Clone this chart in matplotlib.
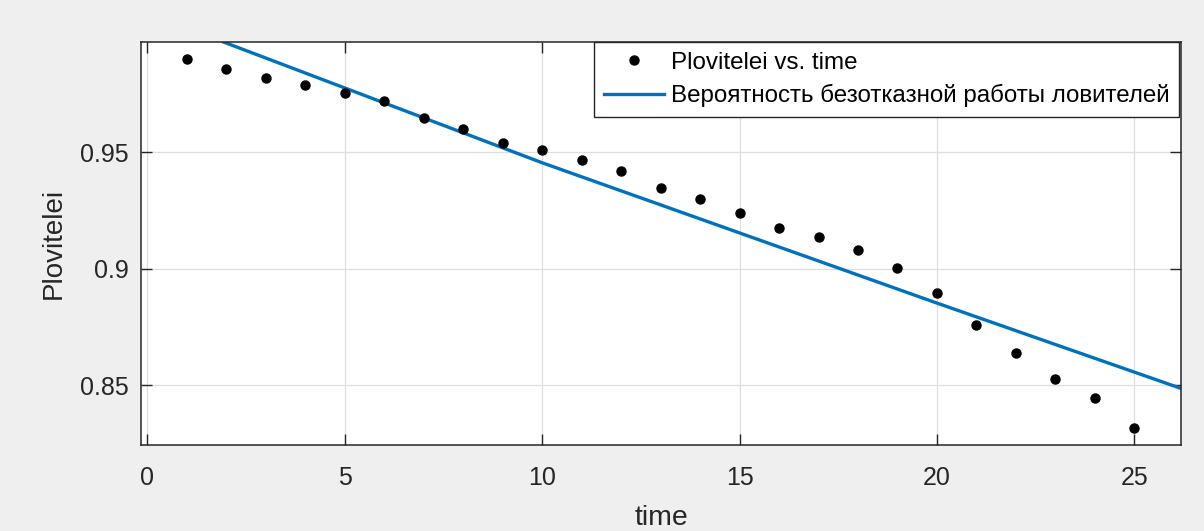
import numpy as np
import matplotlib
matplotlib.use("Agg")
import matplotlib.pyplot as plt

time = [1, 2, 3, 4, 5, 6, 7, 8, 9, 10, 11, 12, 13, 14, 15, 16, 17, 18, 19, 20,
        21, 22, 23, 24, 25]
plovitelei = [0.9899, 0.9859, 0.9819, 0.9788, 0.9756, 0.9721, 0.9647, 0.9600,
              0.9539, 0.9509, 0.9467, 0.9420, 0.9348, 0.9298, 0.9238, 0.9176,
              0.9138, 0.9081, 0.9002, 0.8898, 0.8758, 0.8638, 0.8528, 0.8445,
              0.8317]

# fitted curve, read at a few places along it
fit_time = [1.93, 10, 20, 26.18]
fit_p = [0.9973, 0.9455, 0.8853, 0.8487]

xticks = [0, 5, 10, 15, 20, 25]
yticks = [0.85, 0.9, 0.95]
ytick_labels = ["0.85", "0.9", "0.95"]

plt.rcParams['font.family'] = ['Liberation Sans', 'DejaVu Sans']

dark = '#262626'
fig = plt.figure(figsize=(12.04, 5.31), dpi=100, facecolor='#f0eff0')
ax = fig.add_axes([0.1174, 0.1614, 0.9809 - 0.1174, 0.9209 - 0.1614])
ax.set_facecolor('white')

ax.plot(time, plovitelei, 'o', color='black', ms=6.5, mec='black',
        label='Plovitelei vs. time', zorder=3)
ax.plot(fit_time, fit_p, '-', color='#0072bd', lw=2.4,
        label='Вероятность безотказной работы ловителей', zorder=2)

ax.set_xlim(-0.15, 26.18)
ax.set_ylim(0.8243, 0.9973)
ax.set_xticks(xticks)
ax.set_yticks(yticks)
ax.set_yticklabels(ytick_labels)

ax.grid(True, color='#dedede', lw=0.9)
ax.set_axisbelow(True)
for s in ax.spines.values():
    s.set_color(dark)
    s.set_linewidth(1.1)
ax.tick_params(direction='in', length=8, width=1.0, color=dark,
               top=True, right=True, labelsize=18, labelcolor=dark)
ax.tick_params(axis='x', pad=15)
ax.tick_params(axis='y', pad=9)

ax.set_xlabel('time', fontsize=20.5, color=dark)
ax.xaxis.set_label_coords(0.5, -0.148)
ax.set_ylabel('Plovitelei', fontsize=20, color=dark)
ax.yaxis.set_label_coords(-0.072, 0.5)

leg = ax.legend(loc='upper right', bbox_to_anchor=(0.998, 1.0), borderaxespad=0,
                fontsize=17.4, frameon=True, fancybox=False, framealpha=1,
                handlelength=2.48, handletextpad=0.29, borderpad=0.4,
                labelspacing=0.42, labelcolor='black')
leg.get_frame().set_edgecolor(dark)
leg.get_frame().set_linewidth(1.0)

fig.savefig('out.png', dpi=100, facecolor=fig.get_facecolor())
